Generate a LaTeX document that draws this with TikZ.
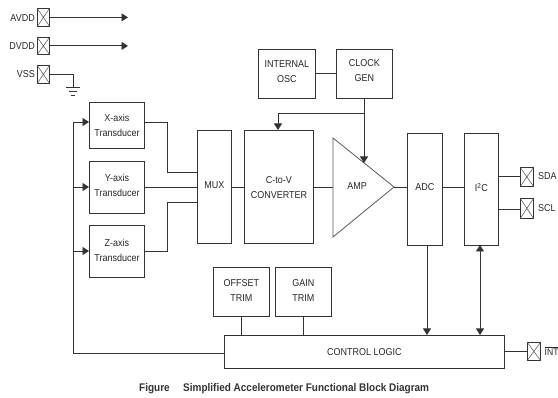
\documentclass[tikz,border=0pt]{standalone}
\usepackage{fontspec}
\setmainfont[FakeStretch=0.9]{Liberation Sans}
\usetikzlibrary{arrows.meta}
\tikzset{
  x=1pt,y=-1pt,
  wire/.style={draw=black!80,line width=0.9pt},
  arr/.style={wire,-{Triangle[length=6.5pt,width=8pt]}},
  darr/.style={wire,{Triangle[length=6.5pt,width=8pt]}-{Triangle[length=6.5pt,width=8pt]}},
  lbl/.style={font=\fontsize{10}{15}\selectfont,text=black!85,align=center,inner sep=0pt},
  blockbox/.style={draw=black!80,line width=0.9pt,fill=white,inner sep=0pt},
  padbox/.style={draw=black!80,line width=0.8pt,inner sep=0pt},
  caplbl/.style={anchor=west,inner sep=0pt,font=\fontsize{11.1}{13}\selectfont\bfseries,text=black!80},
}
% name, x1, y1, x2, y2, text offset, text
\newcommand{\blk}[7]{%
  \node[blockbox,minimum width=#4pt-#2pt,minimum height=#5pt-#3pt,anchor=north west] (#1) at (#2,#3) {};
  \node[lbl] (#1t) at ([yshift=#6pt]#1.center) {#7};}
\newcommand{\pad}[5]{%
  \node[padbox,minimum width=#4pt-#2pt,minimum height=#5pt-#3pt,anchor=north west] (#1) at (#2,#3) {};
  \draw[draw=black!70,line width=0.5pt] (#1.north west) -- (#1.south east) (#1.north east) -- (#1.south west);}
\begin{document}
\begin{tikzpicture}
\useasboundingbox (0,0) rectangle (558,398);
% pads
\pad{avdd}{37}{8}{49}{26}
\pad{dvdd}{37}{37}{49}{54}
\pad{vss}{37}{65}{49}{83}
\pad{sda}{520}{167}{533}{186}
\pad{scl}{520}{198}{533}{218}
\pad{intp}{527}{342}{540}{360}
\node[lbl,anchor=east] (avddl) at (35,18) {AVDD};
\node[lbl,anchor=east] (dvddl) at (35,46) {DVDD};
\node[lbl,anchor=east] (vssl) at (35,74) {VSS};
\node[lbl,anchor=west] (sdal) at (538,176) {SDA};
\node[lbl,anchor=west] (scll) at (538,208) {SCL};
\node[lbl,anchor=west,font=\fontsize{9.5}{10}\selectfont] (intl) at (544.5,351) {$\overline{\mbox{INT}}$};
% supply
\coordinate (aend) at (128,0);
\coordinate (dend) at (128,0);
\draw[arr] (avdd.east) -- (aend |- avdd.east);
\draw[arr] (dvdd.east) -- (dend |- dvdd.east);
\coordinate (gnd) at (73,87);
\draw[wire] (vss.east) -| (gnd);
\draw[wire] (66,87) -- (80,87) (69,91) -- (77,91) (71,95) -- (75,95);
% blocks
\blk{xt}{89}{102}{144}{148}{0}{X-axis\\Transducer}
\blk{yt}{89}{161}{144}{213}{2}{Y-axis\\Transducer}
\blk{zt}{89}{225}{144}{277}{1.5}{Z-axis\\Transducer}
\blk{mux}{197}{130}{231}{243}{1.5}{MUX}
\blk{c2v}{244}{130}{313}{243}{-1}{C-to-V\\CONVERTER}
\blk{osc}{258}{49}{315}{98}{2}{INTERNAL\\OSC}
\blk{clk}{336}{49}{392}{98}{3}{CLOCK\\GEN}
\blk{adc}{407}{133}{442}{245}{2}{ADC}
\blk{i2c}{464}{133}{498}{245}{2}{I\textsuperscript{2}C}
\blk{off}{213}{267}{269}{316}{1}{OFFSET\\TRIM}
\blk{gain}{275}{267}{331}{316}{1}{GAIN\\TRIM}
\blk{ctl}{224}{335}{504}{368}{0}{CONTROL LOGIC}
% AMP
\coordinate (ampa) at (333,138);
\coordinate (ampb) at (333,237);
\coordinate (ampc) at (394,187);
\draw[draw=black!65,line width=0.8pt] (ampa) -- (ampb) -- (ampc) -- cycle;
\node[lbl] (amp) at (357,186) {AMP};
% connectors
\coordinate (fb) at (73,353);
\coordinate (xin) at (73,122);
\draw[wire] (ctl.west |- fb) -- (fb) -- (xin);
\draw[arr] (xin) -- (xin -| xt.west);
\draw[arr] (73,187) -- (yt.west |- 0,187);
\draw[arr] (73,251) -- (zt.west |- 0,251);
\draw[wire] (xt.east |- 0,122) -- (167,122) -- (167,172) -- (mux.west |- 0,172);
\draw[wire] (yt.east |- 0,187) -- (mux.west |- 0,187);
\draw[wire] (zt.east |- 0,251) -- (167,251) -- (167,202) -- (mux.west |- 0,202);
\draw[wire] (mux.east |- 0,187) -- (c2v.west |- 0,187);
\draw[wire] (c2v.east |- 0,187) -- (ampa |- 0,187);
\draw[wire] (ampc) -- (adc.west |- ampc);
\draw[wire] (adc.east |- 0,187) -- (i2c.west |- 0,187);
\draw[wire] (osc.east |- 0,73) -- (clk.west |- 0,73);
\coordinate (tap) at (364,113);
\coordinate (clkout) at (364,98);
\coordinate (ampclk) at (364,163);
\coordinate (c2vclk) at (278,130);
\draw[arr] (clkout) -- (ampclk);
\draw[arr] (tap) -- (c2vclk |- tap) -- (c2vclk);
\draw[wire] (i2c.east |- 0,176) -- (sda.west |- 0,176);
\draw[wire] (i2c.east |- 0,209) -- (scl.west |- 0,209);
\draw[wire] (ctl.east |- 0,351) -- (intp.west |- 0,351);
\draw[wire] (241,316) -- (241,335);
\draw[wire] (303,316) -- (303,335);
\draw[arr] (427,245) -- (427,335);
\draw[darr] (480,245) -- (480,335);
% caption
\node[caplbl] (figl) at (139,389) {Figure};
\node[caplbl] (capl) at (183,389) {Simplified Accelerometer Functional Block Diagram};
\end{tikzpicture}
\end{document}
